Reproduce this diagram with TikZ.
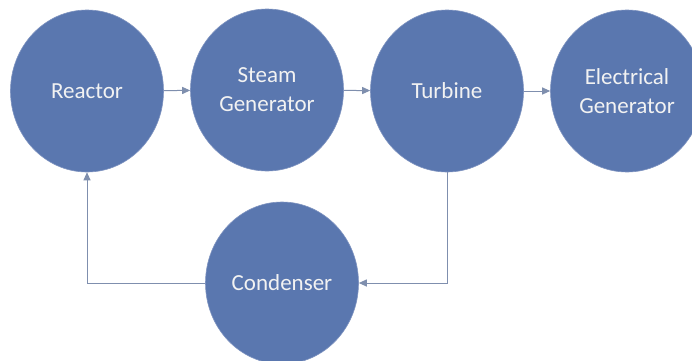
\documentclass[tikz,border=0pt]{standalone}
\usepackage{fontspec}
\setmainfont{Carlito}
\usetikzlibrary{shapes.geometric,arrows.meta}
\definecolor{cfill}{HTML}{5A77AF}
\definecolor{cedge}{HTML}{7E93C0}
\definecolor{cline}{HTML}{7F8FAE}
\definecolor{ctext}{HTML}{F2F2F2}
\begin{document}
\begin{tikzpicture}[x=1pt,y=1pt,
  proc/.style={ellipse,fill=cfill,draw=cedge,line width=0.6pt,minimum width=153pt,minimum height=162pt,inner sep=0pt,
    text=ctext,font=\fontsize{23}{29}\selectfont,align=center},
  flow/.style={cline,line width=1pt,-{Triangle[length=8pt,width=7pt]}}]
\useasboundingbox (0,0) rectangle (692,360);
\clip (0,0) rectangle (692,360);
\fill[white] (0,0) rectangle (692,360);
\node[proc] (R) at (87,269) {Reactor};
\node[proc] (S) at (267,270) {Steam\\Generator};
\node[proc] (T) at (447,269) {Turbine};
\node[proc] (E) at (627,269) {Electrical\\Generator};
\node[proc] (C) at (282,77) {Condenser};
\draw[flow] (R) -- (S);
\draw[flow] (S) -- (T);
\draw[flow] (T) -- (E);
\draw[flow] (T.south) |- (C.east);
\draw[flow] (C.west) -| (R.south);
\end{tikzpicture}
\end{document}
